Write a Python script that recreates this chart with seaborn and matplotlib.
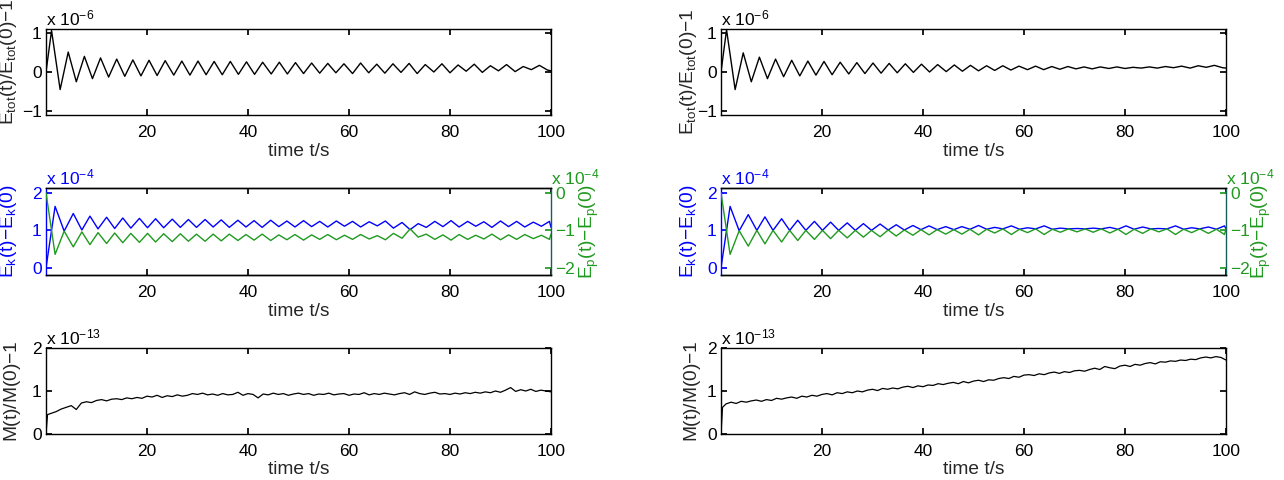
import numpy as np
import matplotlib
matplotlib.use('Agg')
import matplotlib.pyplot as plt
import seaborn as sns

# ---- data (two runs: left column, right column) ----
# times of the extrema of the total-energy error, seconds
t_etot = [0.0, 1.1, 2.8, 4.4, 6.0, 7.6, 9.2, 10.8, 12.4, 14.0, 15.6, 17.2, 18.8,
          20.4, 22.0, 23.6, 25.3, 26.9, 28.5, 30.1, 31.7, 33.3, 34.9, 36.5, 38.1,
          39.7, 41.3, 42.9, 44.6, 46.2, 47.8, 49.4, 51.0, 52.6, 54.2, 55.8, 57.4,
          59.0, 60.7, 62.3, 63.9, 65.5, 67.1, 68.7, 70.3, 71.9, 73.5, 75.1, 76.8,
          78.4, 80.0, 81.6, 83.2, 84.8, 86.4, 88.0, 89.6, 91.2, 92.9, 94.5, 96.1,
          97.7, 99.3, 100.0]
# E_tot(t)/E_tot(0)-1, units of 1e-6
etot_left = [0.0, 1.06, -0.45, 0.51, -0.25, 0.40, -0.17, 0.36, -0.13, 0.33, -0.11,
             0.31, -0.10, 0.30, -0.09, 0.29, -0.08, 0.28, -0.08, 0.28, -0.07, 0.27,
             -0.07, 0.27, -0.06, 0.26, -0.06, 0.25, -0.05, 0.25, -0.05, 0.24, -0.04,
             0.23, -0.03, 0.22, -0.02, 0.21, -0.04, 0.23, -0.02, 0.20, -0.03, 0.21,
             -0.01, 0.22, -0.04, 0.19, 0.00, 0.21, -0.02, 0.18, 0.02, 0.20, -0.01,
             0.16, 0.03, 0.19, 0.01, 0.14, 0.06, 0.17, 0.05, 0.03]
etot_right = [0.0, 1.08, -0.45, 0.49, -0.25, 0.38, -0.17, 0.33, -0.12, 0.30, -0.10,
              0.28, -0.08, 0.27, -0.07, 0.25, -0.05, 0.24, -0.04, 0.23, -0.03, 0.22,
              -0.02, 0.21, -0.01, 0.20, 0.00, 0.19, 0.01, 0.18, 0.02, 0.17, 0.03,
              0.16, 0.04, 0.16, 0.05, 0.15, 0.06, 0.15, 0.06, 0.14, 0.07, 0.14, 0.08,
              0.13, 0.08, 0.13, 0.09, 0.13, 0.09, 0.12, 0.10, 0.13, 0.10, 0.14, 0.11,
              0.15, 0.10, 0.16, 0.12, 0.17, 0.11, 0.10]

# times of the extrema of kinetic / potential energy, seconds
t_energy = [0.0, 1.8, 3.6, 5.4, 7.1, 8.7, 10.3, 12.0, 13.6, 15.2, 16.8, 18.5, 20.1,
            21.7, 23.3, 25.0, 26.6, 28.2, 29.8, 31.5, 33.1, 34.7, 36.3, 38.0, 39.6,
            41.2, 42.8, 44.5, 46.1, 47.7, 49.3, 51.0, 52.6, 54.2, 55.8, 57.5, 59.1,
            60.7, 62.3, 64.0, 65.6, 67.2, 68.8, 70.5, 72.1, 73.7, 75.3, 77.0, 78.6,
            80.2, 81.8, 83.5, 85.1, 86.7, 88.3, 90.0, 91.6, 93.2, 94.8, 96.5, 98.1,
            99.7, 100.0]
# E_k(t)-E_k(0), units of 1e-4
ek_left = [0.0, 1.64, 0.98, 1.45, 1.01, 1.38, 1.04, 1.35, 1.05, 1.33, 1.06, 1.32,
           1.07, 1.31, 1.07, 1.30, 1.08, 1.29, 1.08, 1.29, 1.09, 1.28, 1.08, 1.27,
           1.09, 1.26, 1.08, 1.27, 1.10, 1.25, 1.09, 1.26, 1.10, 1.24, 1.09, 1.25,
           1.11, 1.24, 1.09, 1.23, 1.12, 1.25, 1.06, 1.21, 1.02, 1.18, 1.08, 1.24,
           1.10, 1.26, 1.09, 1.24, 1.11, 1.23, 1.08, 1.25, 1.10, 1.24, 1.09, 1.22,
           1.11, 1.24, 1.08]
# E_p(t)-E_p(0), units of 1e-4
ep_left = [0.0, -1.64, -1.02, -1.44, -1.04, -1.38, -1.06, -1.35, -1.07, -1.33, -1.08,
           -1.32, -1.08, -1.31, -1.09, -1.30, -1.09, -1.29, -1.10, -1.29, -1.10, -1.28,
           -1.10, -1.27, -1.11, -1.26, -1.10, -1.27, -1.12, -1.25, -1.11, -1.26, -1.12,
           -1.24, -1.11, -1.25, -1.13, -1.24, -1.11, -1.23, -1.14, -1.25, -1.08, -1.21,
           -0.96, -1.18, -1.10, -1.24, -1.12, -1.26, -1.11, -1.24, -1.13, -1.23, -1.10,
           -1.25, -1.12, -1.24, -1.11, -1.22, -1.13, -1.24, -1.10]
ek_right = [0.0, 1.64, 0.99, 1.42, 1.00, 1.36, 1.00, 1.31, 1.00, 1.27, 1.00, 1.24,
            1.00, 1.22, 1.00, 1.20, 1.00, 1.18, 1.00, 1.17, 1.01, 1.15, 1.01, 1.13,
            1.02, 1.12, 1.02, 1.10, 1.02, 1.10, 1.03, 1.13, 1.03, 1.08, 1.04, 1.12,
            1.03, 1.07, 1.04, 1.12, 1.03, 1.06, 1.04, 1.05, 1.04, 1.06, 1.04, 1.08,
            1.03, 1.12, 1.03, 1.09, 1.04, 1.05, 1.04, 1.12, 1.03, 1.07, 1.04, 1.09,
            1.03, 1.12, 1.04]
ep_right = [0.0, -1.64, -1.01, -1.42, -1.00, -1.36, -1.00, -1.31, -1.00, -1.27, -1.00,
            -1.24, -1.00, -1.22, -1.00, -1.20, -1.00, -1.18, -1.00, -1.17, -0.99, -1.15,
            -0.99, -1.13, -0.98, -1.12, -0.98, -1.10, -0.98, -1.10, -0.97, -1.12, -0.97,
            -1.07, -0.96, -1.11, -0.97, -1.06, -0.96, -1.11, -0.97, -1.05, -0.96, -1.04,
            -0.96, -1.05, -0.96, -1.07, -0.97, -1.11, -0.97, -1.08, -0.96, -1.04, -0.96,
            -1.11, -0.97, -1.06, -0.96, -1.08, -0.97, -1.11, -0.96]

# sample times of the mass error, seconds
t_mass = [0.0, 0.3] + list(range(1, 101))
# M(t)/M(0)-1, units of 1e-13
mass_left = [0.0, 0.45, 0.48, 0.52, 0.58, 0.62, 0.66, 0.57, 0.72, 0.75, 0.73, 0.78,
             0.80, 0.77, 0.81, 0.82, 0.80, 0.84, 0.82, 0.85, 0.83, 0.88, 0.86, 0.90,
             0.85, 0.89, 0.87, 0.91, 0.88, 0.90, 0.94, 0.92, 0.95, 0.91, 0.93, 0.90,
             0.94, 0.91, 0.92, 0.97, 0.90, 0.94, 0.92, 0.84, 0.93, 0.91, 0.95, 0.92,
             0.94, 0.90, 0.93, 0.95, 0.92, 0.94, 0.90, 0.93, 0.92, 0.95, 0.91, 0.93,
             0.94, 0.90, 0.93, 0.92, 0.96, 0.91, 0.94, 0.92, 0.95, 0.93, 0.91, 0.94,
             0.96, 0.92, 0.98, 0.94, 0.92, 0.95, 0.97, 0.93, 0.94, 0.92, 0.95, 0.93,
             0.96, 0.94, 0.97, 0.95, 0.98, 0.96, 1.00, 0.97, 1.02, 1.08, 0.99, 1.03,
             1.00, 1.04, 0.99, 1.02, 1.00, 0.98]
mass_right = [0.0, 0.62, 0.70, 0.74, 0.71, 0.76, 0.74, 0.77, 0.79, 0.76, 0.80, 0.78,
              0.83, 0.81, 0.84, 0.86, 0.83, 0.88, 0.86, 0.90, 0.88, 0.92, 0.94, 0.91,
              0.96, 0.94, 0.98, 0.96, 1.00, 0.98, 1.02, 1.04, 1.01, 1.06, 1.04, 1.07,
              1.05, 1.09, 1.11, 1.08, 1.12, 1.10, 1.14, 1.13, 1.17, 1.15, 1.18, 1.20,
              1.17, 1.22, 1.19, 1.23, 1.25, 1.22, 1.26, 1.25, 1.29, 1.31, 1.29, 1.34,
              1.32, 1.37, 1.38, 1.36, 1.40, 1.38, 1.42, 1.44, 1.41, 1.45, 1.43, 1.47,
              1.48, 1.46, 1.50, 1.53, 1.50, 1.57, 1.54, 1.52, 1.58, 1.60, 1.57, 1.62,
              1.60, 1.64, 1.66, 1.63, 1.68, 1.67, 1.70, 1.69, 1.72, 1.71, 1.74, 1.73,
              1.77, 1.79, 1.77, 1.80, 1.78, 1.72]

sns.set_theme(style='ticks', rc={
    'axes.edgecolor': 'black', 'axes.linewidth': 1.0,
    'xtick.direction': 'in', 'ytick.direction': 'in',
    'xtick.major.size': 4, 'ytick.major.size': 4,
    'xtick.major.pad': 7, 'ytick.major.pad': 3,
    'xtick.color': 'black', 'ytick.color': 'black',
})
plt.rcParams['font.family'] = ['Liberation Sans', 'DejaVu Sans']
plt.rcParams['mathtext.default'] = 'regular'

FS = 12.5      # tick labels
LFS = 13.75    # axis labels (MATLAB uses 1.1x)
BLUE = '#0000ff'
GREEN = '#1f9a1f'
SPINE_R = '#155e5e'

fig = plt.figure(figsize=(12.84, 4.8), dpi=100)
W, H = 1284, 480
col_x = [46, 721]
row_y = [(29, 115), (188, 275), (348, 434)]


def new_axes(col, row):
    top, bot = row_y[row]
    return fig.add_axes([col_x[col] / W, 1 - bot / H, 505 / W, (bot - top) / H])


def common_x(ax):
    ax.set_xlim(0, 100)
    ax.set_xticks([20, 40, 60, 80, 100])
    ax.tick_params(axis='x', labelsize=FS, top=True, bottom=True)
    ax.set_xlabel('time t/s', fontsize=LFS, labelpad=2)


def sci_label(ax, exp, x=0.0, color='black'):
    ax.text(x, 1.01, r'x 10$^{%d}$' % exp, transform=ax.transAxes,
            ha='left', va='bottom', fontsize=FS, color=color)


def ylab_x(col):
    return -0.053 if col == 0 else -0.043


etot = [etot_left, etot_right]
ek = [ek_left, ek_right]
ep = [ep_left, ep_right]
mass = [mass_left, mass_right]

for c in range(2):
    # total energy error
    ax = new_axes(c, 0)
    sns.lineplot(x=t_etot, y=etot[c], ax=ax, color='black', lw=1.0, estimator=None)
    common_x(ax)
    ax.set_ylim(-1.1, 1.1)
    ax.set_yticks([-1, 0, 1])
    ax.tick_params(axis='y', labelsize=FS, left=True, right=True)
    ax.set_ylabel(r'E$_{tot}$(t)/E$_{tot}$(0)$-$1', fontsize=LFS)
    ax.yaxis.set_label_coords(ylab_x(c), 0.5 if c == 1 else 0.62)
    sci_label(ax, -6)

    # kinetic and potential energy (two y axes)
    ax = new_axes(c, 1)
    ax2 = ax.twinx()
    sns.lineplot(x=t_energy, y=ek[c], ax=ax, color=BLUE, lw=1.0, estimator=None)
    sns.lineplot(x=t_energy, y=ep[c], ax=ax2, color=GREEN, lw=1.0, estimator=None)
    common_x(ax)
    ax.set_ylim(-0.19, 2.13)
    ax.set_yticks([0, 1, 2])
    ax2.set_ylim(-2.19, 0.13)
    ax2.set_yticks([-2, -1, 0])
    ax.tick_params(axis='y', labelsize=FS, colors=BLUE, left=True, right=False)
    ax2.tick_params(axis='y', labelsize=FS, colors=GREEN, direction='in', length=4, pad=3)
    ax.spines['left'].set_color(BLUE)
    ax.spines['right'].set_visible(False)
    ax2.spines['left'].set_visible(False)
    ax2.spines['right'].set_color(SPINE_R)
    ax.set_ylabel(r'E$_k$(t)$-$E$_k$(0)', fontsize=LFS, color=BLUE)
    ax.yaxis.set_label_coords(ylab_x(c), 0.5)
    ax2.set_ylabel(r'E$_p$(t)$-$E$_p$(0)', fontsize=LFS, color=GREEN)
    ax2.yaxis.set_label_coords(1.053 if c == 0 else 1.048, 0.5)
    sci_label(ax, -4, color=BLUE)
    sci_label(ax, -4, x=1.0, color=GREEN)

    # mass error
    ax = new_axes(c, 2)
    sns.lineplot(x=t_mass, y=mass[c], ax=ax, color='black', lw=0.9, estimator=None)
    common_x(ax)
    ax.set_ylim(0, 2)
    ax.set_yticks([0, 1, 2])
    ax.tick_params(axis='y', labelsize=FS, left=True, right=True)
    ax.set_ylabel(r'M(t)/M(0)$-$1', fontsize=LFS)
    ax.yaxis.set_label_coords(ylab_x(c) + 0.008, 0.5)
    sci_label(ax, -13)

fig.savefig('out.png', dpi=100, facecolor='white')
